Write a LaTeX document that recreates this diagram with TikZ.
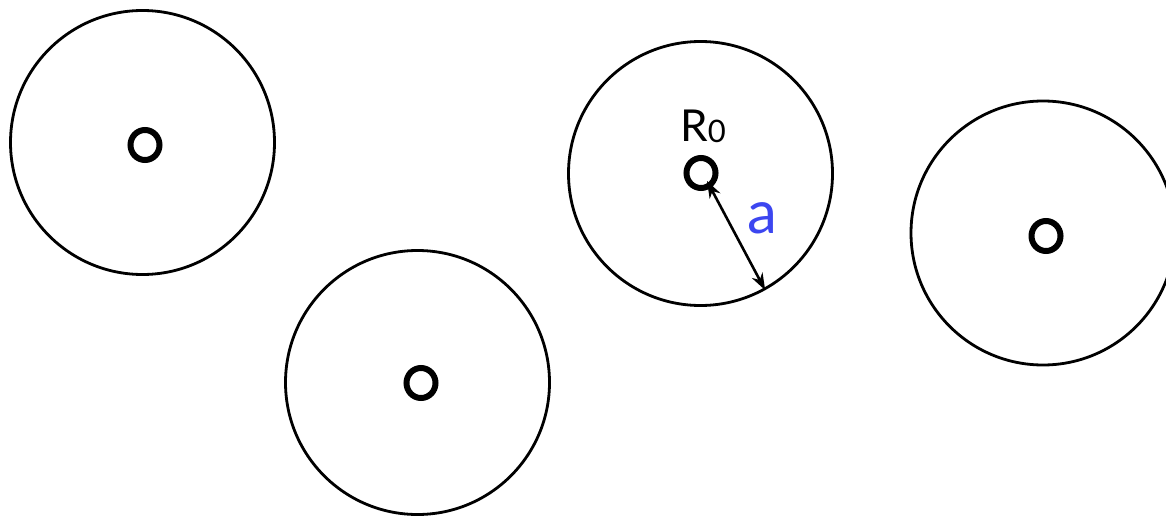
\documentclass[tikz,border=0pt]{standalone}
\usepackage{fontspec}
\setmainfont{Lato}
\usetikzlibrary{arrows.meta,shapes.geometric}
\definecolor{ablue}{RGB}{60,70,240}
\tikzset{
  big/.style={draw=black, line width=2.8pt, circle, minimum size=264pt, inner sep=0pt},
  dot/.style={draw=black, line width=6pt, ellipse, minimum width=29pt, minimum height=30pt, inner sep=0pt},
  radius arrow/.style={line width=2.6pt, {Stealth[length=17pt,width=12pt]}-{Stealth[length=17pt,width=12pt]}}
}
\begin{document}
\begin{tikzpicture}[x=1pt,y=-1pt]
\useasboundingbox (0,0) rectangle (1166,516);
\node[big] (c1) at (142.5,142.5) {};
\node[big] (c2) at (417.5,382.5) {};
\node[big] (c3) at (700.5,173.5) {};
\node[big] (c4) at (1043,233) {};
\node[dot] (o1) at (145,145) {};
\node[dot] (o2) at (421,383) {};
\node[dot] (o3) at (701,173) {};
\node[dot] (o4) at (1046,236) {};
\node[font=\fontsize{44}{48}\selectfont, anchor=base] (r0) at (703,142) {R\raisebox{-1pt}{\fontsize{31}{33}\selectfont 0}};
\coordinate (t) at (707,181);
\draw[radius arrow] (t) -- (c3.-61);
\node[font=\fontsize{60}{62}\selectfont, text=ablue, anchor=base] (a) at (762,233) {a};
\end{tikzpicture}
\end{document}
